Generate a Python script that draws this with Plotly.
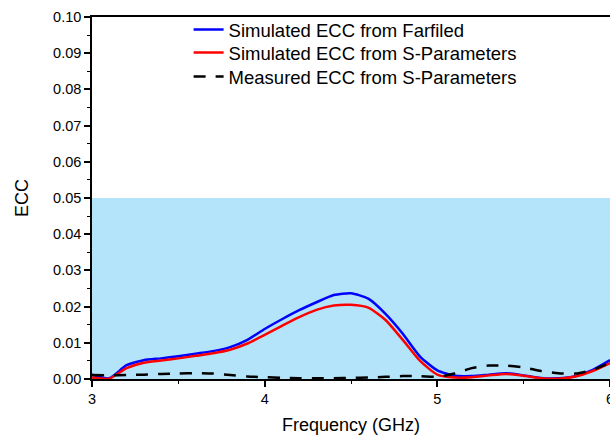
import plotly.graph_objects as go

freq = [3.0, 3.1, 3.2, 3.3, 3.4, 3.5, 3.6, 3.7, 3.8, 3.9, 4.0, 4.1, 4.2, 4.3, 4.4, 4.5,
        4.6, 4.7, 4.8, 4.9, 5.0, 5.1, 5.2, 5.3, 5.4, 5.5, 5.6, 5.7, 5.8, 5.9, 6.0]

ecc_farfield = [0.0012, 0.0002, 0.0038, 0.0052, 0.0057, 0.0063, 0.0070, 0.0077, 0.0088, 0.0108,
                0.0138, 0.0165, 0.0190, 0.0212, 0.0232, 0.0237, 0.0222, 0.0180, 0.0125, 0.0062,
                0.0024, 0.0009, 0.0008, 0.0012, 0.0016, 0.0010, 0.0003, 0.0002, 0.0008, 0.0025,
                0.0052]

ecc_sparam_sim = [0.0004, 0.0001, 0.0030, 0.0045, 0.0051, 0.0057, 0.0064, 0.0071, 0.0081, 0.0098,
                  0.0122, 0.0147, 0.0171, 0.0191, 0.0203, 0.0205, 0.0197, 0.0163, 0.0108, 0.0050,
                  0.0012, 0.0004, 0.0005, 0.0010, 0.0014, 0.0009, 0.0002, 0.0001, 0.0007, 0.0022,
                  0.0044]

ecc_measured = [0.0011, 0.0010, 0.0011, 0.0012, 0.0014, 0.0015, 0.0016, 0.0015, 0.0011, 0.0007,
                0.0005, 0.0003, 0.0002, 0.0002, 0.0002, 0.0003, 0.0004, 0.0006, 0.0008, 0.0008,
                0.0006, 0.0015, 0.0030, 0.0037, 0.0037, 0.0032, 0.0022, 0.0016, 0.0015, 0.0025,
                0.0045]

threshold = 0.05
series_names = ["Simulated ECC from Farfiled", "Simulated ECC from S-Parameters",
                "Measured ECC from S-Parameters"]

FONT = "Liberation Sans, Arial, sans-serif"

fig = go.Figure()
fig.add_trace(go.Scatter(x=freq, y=ecc_farfield, mode="lines", name=series_names[0], legend="legend",
                         line=dict(color="#0000ff", width=2.5, shape="spline", smoothing=0.6)))
fig.add_trace(go.Scatter(x=freq, y=ecc_sparam_sim, mode="lines", name=series_names[1], legend="legend2",
                         line=dict(color="#ff0000", width=2.5, shape="spline", smoothing=0.6)))
fig.add_trace(go.Scatter(x=freq, y=ecc_measured, mode="lines", name=series_names[2], legend="legend3",
                         line=dict(color="#000000", width=2.5, dash="12px,10px",
                                   shape="spline", smoothing=0.6)))

fig.add_shape(type="rect", xref="x", yref="y", x0=freq[0], x1=freq[-1], y0=0, y1=threshold,
              fillcolor="#b4e4fa", line=dict(width=0), layer="below")

leg_common = dict(x=0.1865, xanchor="left", yanchor="middle",
                  bgcolor="rgba(0,0,0,0)", font=dict(size=18.5, family=FONT))

fig.update_layout(
    width=610, height=437,
    margin=dict(l=92, r=0, t=17, b=58, autoexpand=False),
    paper_bgcolor="white", plot_bgcolor="white",
    font=dict(family=FONT, color="black", size=14.5),
    showlegend=True,
    legend=dict(y=0.964, **leg_common),
    legend2=dict(y=0.9006, **leg_common),
    legend3=dict(y=0.834, **leg_common),
)
fig.update_xaxes(
    range=[3, 6], tickvals=[3, 4, 5, 6], ticktext=["3", "4", "5", "6"],
    ticklabeloverflow="allow", automargin=False,
    showline=True, linecolor="black", linewidth=1.5, mirror=True,
    ticks="outside", ticklen=6, tickwidth=1.5, tickcolor="black",
    minor=dict(ticks="outside", ticklen=3, dtick=0.5, tickwidth=1.2, tickcolor="black"),
    showgrid=False, zeroline=False,
    title=dict(text="Frequency (GHz)", font=dict(size=18, family=FONT), standoff=12),
)
fig.update_yaxes(
    range=[0, 0.1], tickvals=[0, 0.01, 0.02, 0.03, 0.04, 0.05, 0.06, 0.07, 0.08, 0.09, 0.10],
    tickformat=".2f", automargin=False,
    showline=True, linecolor="black", linewidth=1.5,
    ticks="outside", ticklen=6, tickwidth=1.5, tickcolor="black",
    minor=dict(ticks="outside", ticklen=3, dtick=0.005, tickwidth=1.2, tickcolor="black"),
    showgrid=False, zeroline=False,
    title=dict(text="ECC", font=dict(size=18, family=FONT), standoff=20),
)

fig.write_html("out.html")
